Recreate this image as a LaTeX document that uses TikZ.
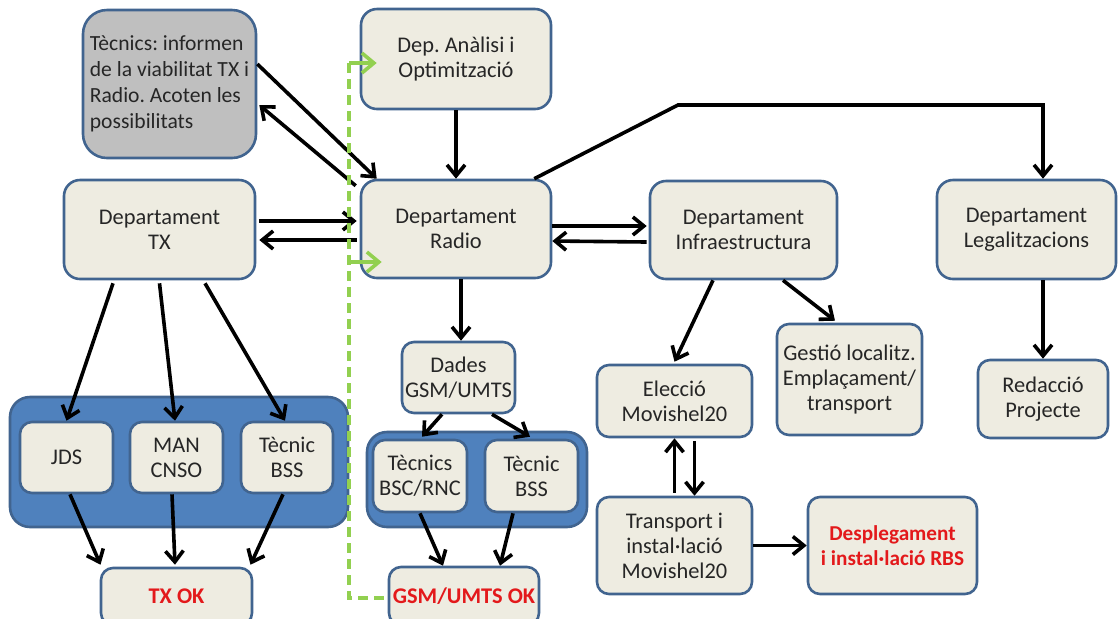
\documentclass[tikz,border=0pt]{standalone}
\usepackage{fontspec}
\setmainfont{Carlito}
\usetikzlibrary{arrows.meta}
\definecolor{boxfill}{HTML}{EEECE1}
\definecolor{boxline}{HTML}{41648F}
\definecolor{grpfill}{HTML}{4F81BD}
\definecolor{grayfill}{HTML}{BFBFBF}
\definecolor{okred}{HTML}{E3191B}
\definecolor{dashgreen}{HTML}{92D050}
\definecolor{txt}{HTML}{262626}
\begin{document}
\frenchspacing
\begin{tikzpicture}[x=0.5pt,y=-0.5pt,
  box/.style={draw=boxline, line width=1.3pt, fill=boxfill, rounded corners=6pt,
    align=center, inner sep=0pt, text=txt, font=\fontsize{11.2}{12.5}\selectfont},
  bigbox/.style={box, rounded corners=8pt},
  grp/.style={draw=boxline, line width=1.3pt, fill=grpfill, rounded corners=10pt, inner sep=0pt},
  oktext/.style={text=okred, font=\fontsize{11.2}{12.5}\selectfont\bfseries},
  arr/.style={line width=1.8pt, -{Straight Barb[length=5.5pt,width=9pt]}},
  feedback/.style={draw=dashgreen, line width=1.6pt, dash pattern=on 5pt off 3pt},
  feedarr/.style={line width=1.8pt, draw=dashgreen, -{Straight Barb[length=6pt,width=10pt]}}]
\useasboundingbox (0,0) rectangle (1118,618);

% grouping panels
\node[grp, minimum width=169pt, minimum height=65pt] (grp1) at (179,462) {};
\node[grp, minimum width=110pt, minimum height=47.5pt] (grp2) at (477,479.5) {};

% top row
\node[box, fill=grayfill, rounded corners=12pt, minimum width=86.5pt, minimum height=74pt,
  align=left, font=\fontsize{10.8}{13}\selectfont] (tecn) at (169.5,84)
  {Tècnics: informen\\de la viabilitat TX i\\Radio. Acoten les\\possibilitats};
\node[bigbox, minimum width=95pt, minimum height=50pt] (anal) at (456,59) {Dep. Anàlisi i\\Optimització};

% departments
\node[bigbox, minimum width=95.5pt, minimum height=49.5pt] (tx) at (159.5,229.5) {Departament\\TX};
\node[bigbox, minimum width=95pt, minimum height=49pt] (radio) at (456,229) {Departament\\Radio};
\node[bigbox, minimum width=93.5pt, minimum height=49pt] (infra) at (743.5,230) {Departament\\Infraestructura};
\node[bigbox, minimum width=89.5pt, minimum height=49.5pt] (legal) at (1026.5,229.5) {Departament\\Legalitzacions};

% TX branch
\node[box, minimum width=46.5pt, minimum height=35.5pt] (jds) at (66.5,457.5) {JDS};
\node[box, minimum width=46.5pt, minimum height=35.5pt] (man) at (176.5,457.5) {MAN\\CNSO};
\node[box, minimum width=46pt, minimum height=35.5pt] (bssa) at (287,457.5) {Tècnic\\BSS};
\node[box, minimum width=75.5pt, minimum height=28.5pt, oktext] (txok) at (176.5,596.5) {TX OK};

% Radio branch
\node[box, minimum width=56.5pt, minimum height=35.5pt] (dades) at (458.5,377.5) {Dades\\GSM/UMTS};
\node[box, minimum width=47pt, minimum height=36pt] (bsc) at (420,476) {Tècnics\\BSC/RNC};
\node[box, minimum width=46.5pt, minimum height=36pt] (bssb) at (531.5,476) {Tècnic\\BSS};
\node[box, minimum width=75pt, minimum height=29pt, oktext] (gsmok) at (464,596) {GSM/UMTS OK};

% Infrastructure branch
\node[box, minimum width=77.5pt, minimum height=36pt] (elec) at (674.5,401) {Elecció\\Movishel20};
\node[box, minimum width=72.5pt, minimum height=55.5pt] (gest) at (849.5,379.5) {Gestió localitz.\\Emplaçament/\\transport};
\node[box, minimum width=77.5pt, minimum height=48.5pt] (transp) at (674.5,545.5) {Transport i\\instal·lació\\Movishel20};
\node[box, minimum width=84.5pt, minimum height=48.5pt, oktext, font=\fontsize{10.6}{12.5}\selectfont\bfseries] (despl) at (892.5,545.5) {Desplegament\\i instal·lació RBS};

% Legalisation branch
\node[box, minimum width=65pt, minimum height=39pt] (redac) at (1043,399) {Redacció\\Projecte};

% connectors around the radio department
\draw[arr] ([yshift=10pt]tecn.east) -- ([xshift=8.5pt]radio.north west);
\draw[arr] ([xshift=-2pt,yshift=-3.5pt]radio.north west) -- ([xshift=1pt,yshift=-10.5pt]tecn.east);
\draw[arr] ([xshift=1.5pt,yshift=4.25pt]tx.east) -- ([xshift=-1.5pt,yshift=4pt]radio.west);
\draw[arr] ([xshift=-1.5pt,yshift=-5.5pt]radio.west) -- ([xshift=1.5pt,yshift=-5.25pt]tx.east);
\draw[arr] (anal.south) -- (radio.north);
\coordinate (k1) at (678,105);
\draw[arr] ([xshift=-9pt]radio.north east) -- (k1) -| ([xshift=8.25pt]legal.north);
\draw[arr] ([yshift=1.5pt]radio.east) -- ([xshift=-1pt,yshift=2pt]infra.west);
\draw[arr] ([xshift=-1pt,yshift=-6pt]infra.west) -- ([yshift=-6pt]radio.east);
\draw[arr] ([xshift=2.5pt]radio.south) -- ([xshift=2.5pt]radio.south |- dades.north);

% radio branch
\draw[arr] ([xshift=-8.25pt]dades.south) -- ([xshift=1pt,yshift=1pt]bsc.north);
\draw[arr] ([xshift=16.75pt]dades.south) -- ([xshift=-0.75pt,yshift=1pt]bssb.north);
\draw[arr] (bsc.south) -- ([xshift=-10.5pt]gsmok.north);
\draw[arr] ([xshift=-9.25pt]bssb.south) -- ([xshift=18pt]gsmok.north);

% TX branch
\draw[arr] ([xshift=-23.25pt,yshift=-1.5pt]tx.south) -- (jds.north);
\draw[arr] ([yshift=-1.5pt]tx.south) -- ([xshift=-0.75pt]man.north);
\draw[arr] ([xshift=22.75pt,yshift=-1.5pt]tx.south) -- ([xshift=-1pt]bssa.north);
\draw[arr] ([xshift=1.75pt]jds.south) -- ([xshift=-38pt,yshift=1pt]txok.north);
\draw[arr] ([xshift=-2.25pt]man.south) -- ([xshift=-0.75pt,yshift=1pt]txok.north);
\draw[arr] ([xshift=-2pt]bssa.south) -- ([xshift=37pt,yshift=1pt]txok.north);

% infrastructure branch
\draw[arr] ([xshift=-15.25pt]infra.south) -- ([yshift=1pt]elec.north);
\draw[arr] ([xshift=19.75pt]infra.south) -- ([xshift=-7.25pt,yshift=1pt]gest.north);
\draw[arr] ([yshift=1.5pt]transp.north) -- (elec.south);
\draw[arr] ([xshift=10pt,yshift=-1.5pt]elec.south) -- ([xshift=10pt]transp.north);
\draw[arr] (transp.east) -- (despl.west);

% legalisation branch
\draw[arr] ([xshift=8.25pt]legal.south) -- (redac.north);

% feedback from GSM/UMTS OK
\coordinate (gtop) at (349,63);
\coordinate (gmid) at (349,262);
\draw[feedback] ([xshift=-2pt,yshift=-1pt]gsmok.west) -| (gtop);
\draw[feedarr] (gtop) -- ([xshift=8.5pt,yshift=-2pt]anal.west);
\draw[feedarr] (gmid) -- ([xshift=11pt,yshift=-16.5pt]radio.west);
\end{tikzpicture}
\end{document}
